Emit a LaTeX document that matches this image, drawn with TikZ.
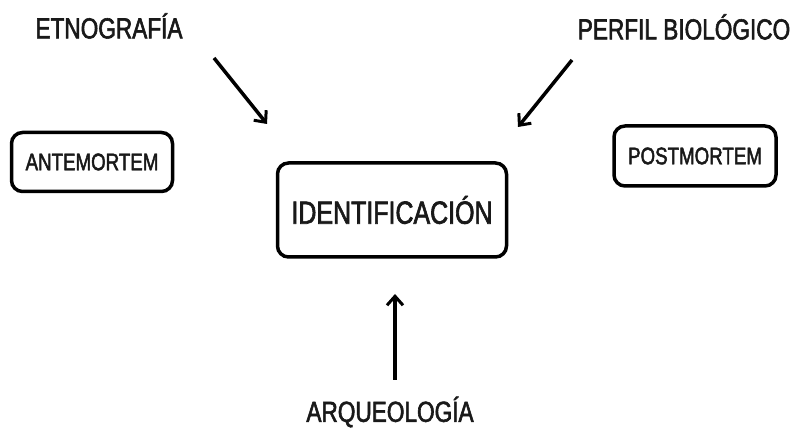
\documentclass[tikz,border=0pt]{standalone}
\usepackage{fontspec}
\setmainfont{Liberation Sans}[FakeStretch=0.78, FakeBold=2]
\usepackage{tikz}
\usetikzlibrary{arrows.meta, positioning}
\tikzset{
  >={Straight Barb[length=9pt,width=16pt,line width=3pt]},
  x=1pt, y=-1pt,
  every node/.style={text=black!90},
  label/.style={font=\fontsize{29}{32}\selectfont},
  box/.style={draw, line width=3.5pt, rounded corners=11pt, font=\fontsize{24}{27}\selectfont},
  flow/.style={->, line width=3.5pt},
}

\begin{document}
\begin{tikzpicture}
  \useasboundingbox (0,0) rectangle (795,435);

  \node[box, minimum width=229pt, minimum height=94pt, font=\fontsize{32}{35}\selectfont] (ident) at (392,210) {IDENTIFICACIÓN};
  \node[box, minimum width=161pt, minimum height=59pt] (ante) at (92,162) {ANTEMORTEM};
  \node[box, minimum width=162pt, minimum height=60pt] (post) at (695,156) {POSTMORTEM};

  \node[label] (etno) at (109,26) {ETNOGRAFÍA};
  \node[label] (perfil) at (684,27) {PERFIL BIOLÓGICO};
  \node[label] (arqueo) at (390,412) {ARQUEOLOGÍA};

  % arrow ends
  \coordinate (e0) at (214,58);
  \coordinate (e1) at (267,124);
  \coordinate (p0) at (572,60);
  \coordinate (p1) at (518,127);
  \coordinate (a0) at (395,380);
  \coordinate (a1) at (395,294);

  \draw[flow] (e0) -- (e1);
  \draw[flow] (p0) -- (p1);
  \draw[flow] (a0) -- (a1);
\end{tikzpicture}
\end{document}
